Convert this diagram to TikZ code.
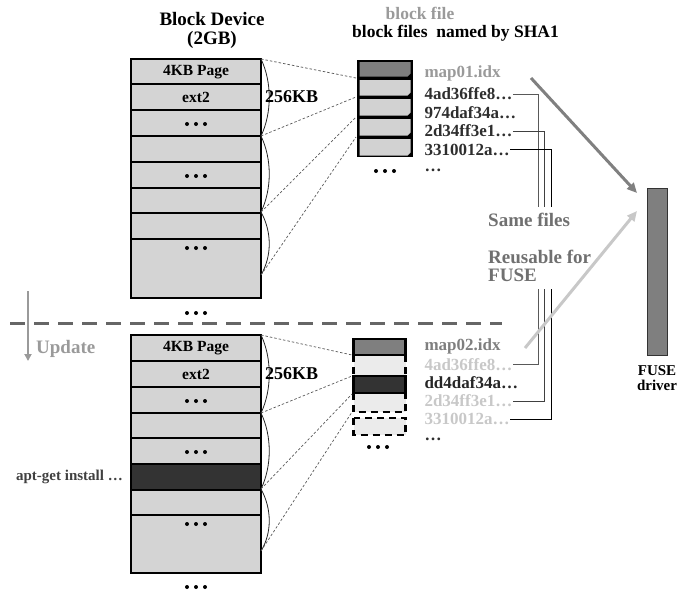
\documentclass[tikz,border=0pt]{standalone}
\usepackage{fontspec}
\setmainfont{Liberation Serif}
\usetikzlibrary{arrows.meta}
\definecolor{blockgray}{HTML}{D4D4D4}
\definecolor{filelight}{HTML}{D2D2D2}
\definecolor{filepale}{HTML}{EBEBEB}
\definecolor{midgray}{HTML}{7F7F7F}
\definecolor{darkfill}{HTML}{333333}
\definecolor{textdark}{HTML}{2E2E2E}
\definecolor{textgray}{HTML}{9A9A9A}
\definecolor{textpale}{HTML}{C8C8C8}
\definecolor{textmid}{HTML}{707070}
\definecolor{arrowdark}{HTML}{808080}
\definecolor{arrowlight}{HTML}{C8C8C8}
\definecolor{sepgray}{HTML}{666666}
\tikzset{
  threedots/.pic={\fill (-9,0) circle[radius=2pt] (0,0) circle[radius=2pt] (9,0) circle[radius=2pt];},
  rowbox/.style={fill=blockgray,draw=black,line width=2pt},
  rowlab/.style={inner sep=1pt,font=\fontsize{15.5}{15.5}\selectfont\bfseries},
  dotline/.style={draw=black!65,line width=0.7pt,dash pattern=on 2.5pt off 2pt},
  bracearc/.style={draw=black!85,line width=0.8pt},
  fname/.style={anchor=west,inner sep=0.3pt,font=\fontsize{17}{17}\selectfont\bfseries},
  conn/.style={line width=0.9pt},
  bigarrow/.style={line width=3pt,-{Triangle[length=10pt,width=9pt]}},
}
\begin{document}
\begin{tikzpicture}[x=1pt,y=-1pt,font=\bfseries]
\useasboundingbox (0,0) rectangle (682,592);

% ---------- titles
\node[align=center,inner sep=0pt,font=\fontsize{19}{19}\selectfont\bfseries] (bdtitle) at (212,30) {Block Device\\(2GB)};
\node[inner sep=0pt,text=textgray,font=\fontsize{17.5}{17.5}\selectfont\bfseries] (bftitle) at (420,13) {block file};
\node[anchor=west,inner sep=0pt,font=\fontsize{17.5}{17.5}\selectfont\bfseries] (bfsub) at (352,33) {block files~ named by SHA1};

% ---------- top block device
\foreach \ya/\yb in {59/84,84/110,110/136,136/162,162/188,188/213,213/239,239/298}
  \filldraw[rowbox] (131,\ya) rectangle (261,\yb);
\draw[line width=2.5pt] (131,59) rectangle (261,298);
\node[rowlab] (tpage) at (196,72) {4KB Page};
\node[rowlab] (text2) at (196,97.5) {ext2};
\pic at (196,124) {threedots};
\pic at (196,176) {threedots};
\pic at (196,248) {threedots};
\pic at (196,313) {threedots};

\coordinate (ta) at (261,59);
\coordinate (tb) at (261,136);
\coordinate (tc) at (261,212);
\coordinate (td) at (261,275);
\draw[bracearc] (ta) .. controls (272,82) and (272,113) .. (tb);
\draw[bracearc] (tb) .. controls (272,159) and (272,189) .. (tc);
\draw[bracearc] (tc) .. controls (272,232) and (272,256) .. (td);
\node[anchor=west,inner sep=0pt,font=\fontsize{18}{18}\selectfont\bfseries] (tkb) at (265,97) {256KB};

% ---------- top file stack
\fill[black] (357,60) rectangle (413,157);
\coordinate (sa) at (356,78);
\coordinate (sb) at (356,97);
\coordinate (sc) at (356,117);
\coordinate (sd) at (356,137);
\foreach \ya/\yb/\col in {60/78/midgray,78/97/filelight,97/117/filelight,117/137/filelight,137/157/filelight}
  \fill[\col] (359.5,\ya+2.2) -- (410.5,\ya+2.2) -- (410.5,\yb-4.5) -- (407.5,\yb-1.5) -- (359.5,\yb-1.5) -- cycle;
\pic at (385,171) {threedots};

\draw[dotline] (ta) -- (sa);
\draw[dotline] (tb) -- (sb);
\draw[dotline] (tc) -- (sc);
\draw[dotline] (td) -- (sd);

% ---------- top file names
\node[fname,text=textgray] (fm1) at (424,73) {map01.idx};
\node[fname,text=textdark] (f1) at (424,94) {4ad36ffe8…};
\node[fname,text=textdark] (f2) at (424,112.5) {974daf34a…};
\node[fname,text=textdark] (f3) at (424,131) {2d34ff3e1…};
\node[fname,text=textdark] (f4) at (424,149.5) {3310012a…};
\node[fname,text=textdark] (f5) at (424,170) {…};

% ---------- separator
\coordinate (sepl) at (10,323);
\coordinate (sepr) at (502,323);
\draw[sepgray,line width=3pt,dash pattern=on 15pt off 9pt] (sepl) -- (sepr);
\coordinate (upa) at (28,291);
\coordinate (upb) at (28,361);
\draw[textgray,line width=2pt,-{Triangle[length=7pt,width=7pt]}] (upa) -- (upb);
\node[anchor=west,inner sep=0pt,text=textgray,font=\fontsize{19}{19}\selectfont\bfseries] (upd) at (36,349) {Update};

% ---------- bottom block device
\foreach \ya/\yb in {335/361,361/387,387/413,413/438,438/464,490/515,515/573}
  \filldraw[rowbox] (131,\ya) rectangle (261,\yb);
\filldraw[rowbox,fill=darkfill] (131,464) rectangle (261,490);
\draw[line width=2.5pt] (131,335) rectangle (261,573);
\node[rowlab] (bpage) at (196,348) {4KB Page};
\node[rowlab] (bext2) at (196,374) {ext2};
\pic at (196,401) {threedots};
\pic at (196,452) {threedots};
\pic at (196,524) {threedots};
\pic at (196,587) {threedots};
\node[anchor=east,inner sep=0pt,text=black!75,font=\fontsize{15}{15}\selectfont\bfseries] (apt) at (123,477) {apt-get install …};

\coordinate (ba) at (261,335);
\coordinate (bb) at (261,413);
\coordinate (bc) at (261,489);
\coordinate (bd) at (261,551);
\draw[bracearc] (ba) .. controls (272,358) and (272,390) .. (bb);
\draw[bracearc] (bb) .. controls (272,436) and (272,466) .. (bc);
\draw[bracearc] (bc) .. controls (272,509) and (272,533) .. (bd);
\node[anchor=west,inner sep=0pt,font=\fontsize{18}{18}\selectfont\bfseries] (bkb) at (265,374) {256KB};

% ---------- bottom file stack
\fill[filepale] (353.5,355) rectangle (406,375);
\fill[filepale] (353.5,393) rectangle (406,412);
\fill[filepale] (353.5,418) rectangle (406,435);
\filldraw[fill=midgray,draw=black,line width=2.5pt] (353.5,339) rectangle (405.5,355);
\draw[black,line width=2.5pt,dash pattern=on 7pt off 5pt] (353.5,355) -- (353.5,375) (405.5,355) -- (405.5,375);
\filldraw[fill=darkfill,draw=black,line width=2.5pt] (353.5,376) rectangle (405.5,393);
\draw[black,line width=2.5pt,dash pattern=on 7pt off 5pt] (353.5,393) -- (353.5,412) -- (405.5,412) -- (405.5,393);
\draw[black,line width=2.5pt,dash pattern=on 7pt off 5pt] (353.5,418) rectangle (405.5,435);
\pic at (378,447) {threedots};
\coordinate (ssa) at (352,355);
\coordinate (ssb) at (352,376);
\coordinate (ssc) at (352,394);
\coordinate (ssd) at (352,412);
\draw[dotline] (ba) -- (ssa);
\draw[dotline] (bb) -- (ssb);
\draw[dotline] (bc) -- (ssc);
\draw[dotline] (bd) -- (ssd);

% ---------- bottom file names
\node[fname,text=midgray] (gm1) at (424,346) {map02.idx};
\node[fname,text=textpale] (g1) at (424,364.5) {4ad36ffe8…};
\node[fname,text=black!85] (g2) at (424,383) {dd4daf34a…};
\node[fname,text=textpale] (g3) at (424,401) {2d34ff3e1…};
\node[fname,text=textpale] (g4) at (424,419) {3310012a…};
\node[fname,text=textdark] (g5) at (424,439) {…};

% ---------- connectors between same files
\coordinate (cx1) at (538,0);
\coordinate (cx2) at (544.5,0);
\coordinate (cx3) at (551,0);
\draw[conn,black!65] (f1.east) -| (cx1 |- g1.east) -- (g1.east);
\draw[conn,black!75] (f3.east) -| (cx2 |- g3.east) -- (g3.east);
\draw[conn,black] (f4.east) -| (cx3 |- g4.east) -- (g4.east);

% ---------- label box
\node[fill=white,inner sep=0pt,minimum width=136pt,minimum height=82pt] (lbox) at (548,248) {};
\node[anchor=west,inner sep=0pt,text=textmid,font=\fontsize{19}{19}\selectfont\bfseries] (same) at (488,220) {Same files};
\node[anchor=north west,align=left,inner sep=0pt,text=textmid,font=\fontsize{19}{18}\selectfont\bfseries] (reuse) at (488,250) {Reusable for\\FUSE};

% ---------- FUSE driver
\node[draw=black!80,fill=midgray,line width=1pt,minimum width=20pt,minimum height=167pt,inner sep=0pt] (fuse) at (657,271.5) {};
\node[align=center,inner sep=0pt,font=\fontsize{15}{15}\selectfont\bfseries] (fusel) at (657,378) {FUSE\\driver};

% ---------- arrows
\coordinate (a1s) at (531,78);
\coordinate (a1e) at (637,193);
\coordinate (a2s) at (525,348);
\coordinate (a2e) at (637,211);
\draw[bigarrow,arrowdark] (a1s) -- (a1e);
\draw[bigarrow,arrowlight] (a2s) -- (a2e);
\end{tikzpicture}
\end{document}
